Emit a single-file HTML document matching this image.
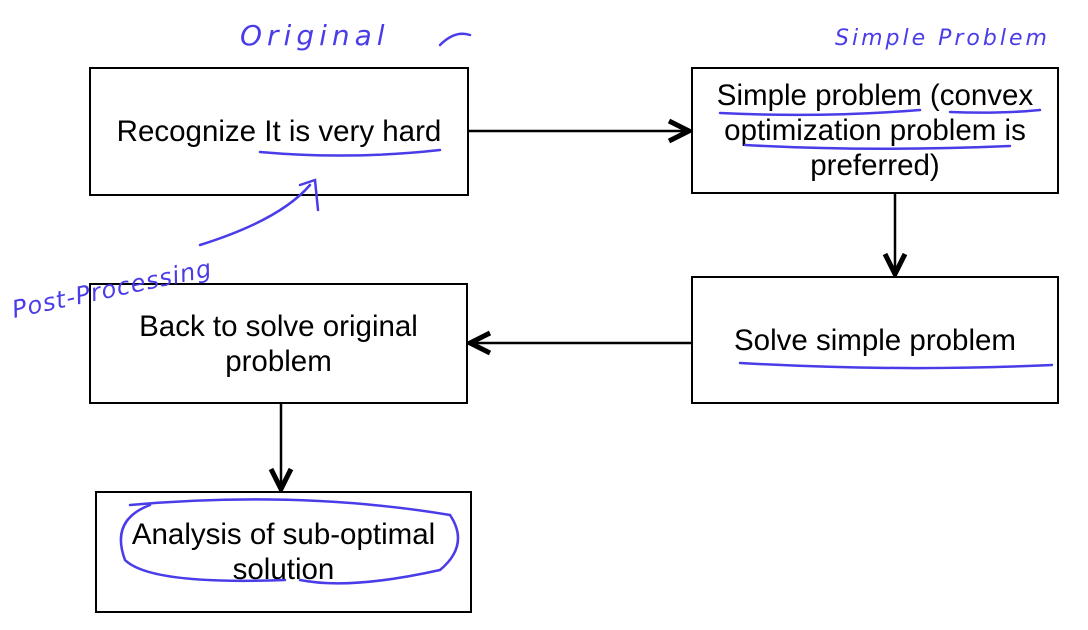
<!DOCTYPE html>
<html><head><meta charset="utf-8"><style>
html,body{margin:0;padding:0;background:#fff;}
body{width:1088px;height:630px;position:relative;overflow:hidden;font-family:"Liberation Sans",Arial,sans-serif;}
.b{position:absolute;border:2.5px solid #000;box-sizing:border-box;display:flex;align-items:center;justify-content:center;text-align:center;font-size:29.5px;line-height:35px;color:#000;}
svg{position:absolute;left:0;top:0;}
</style></head><body>
<div class="b" style="left:89px;top:67px;width:380px;height:129px;">Recognize It is very hard</div>
<div class="b" style="left:691px;top:67px;width:368px;height:127px;">Simple problem (convex<br>optimization problem is<br>preferred)</div>
<div class="b" style="left:89px;top:283px;width:379px;height:121px;">Back to solve original<br>problem</div>
<div class="b" style="left:691px;top:276px;width:368px;height:128px;">Solve simple problem</div>
<div class="b" style="left:95px;top:491px;width:377px;height:122px;">Analysis of sub-optimal<br>solution</div>
<svg width="1088" height="630" viewBox="0 0 1088 630">
<defs><marker id="a" markerWidth="10" markerHeight="10" refX="9" refY="5" orient="auto"><path d="M1,1 L9,5 L1,9" fill="none" stroke="#000" stroke-width="2"/></marker></defs>
<g stroke="#000" stroke-width="2.5" fill="none">
<line x1="469" y1="131" x2="689" y2="131" marker-end="url(#a)"/>
<line x1="895" y1="194" x2="895" y2="274" marker-end="url(#a)"/>
<line x1="691" y1="343" x2="470" y2="343" marker-end="url(#a)"/>
<line x1="281" y1="404" x2="281" y2="489" marker-end="url(#a)"/>
</g>
<g stroke="#4a3ce8" stroke-width="2.5" fill="none" stroke-linecap="round">
<path d="M260,152 Q350,160 440,150"/>
<path d="M720,113 Q820,118 920,110 M950,112 Q1000,114 1040,110"/>
<path d="M745,145 Q870,152 1010,146"/>
<path d="M740,363 Q900,372 1052,365"/>
<path d="M200,245 Q280,220 310,185 M300,185 L315,180 L318,210"/>
<path d="M130,505 Q300,490 450,515 Q470,545 440,570 Q350,590 300,580 M285,580 Q150,585 125,560 Q110,520 150,505"/>
<path d="M440,45 Q455,30 470,35"/>
</g>
<g fill="#4a3ce8" font-family="DejaVu Sans,sans-serif" font-style="italic" font-weight="300">
<text x="240" y="45" font-size="28" letter-spacing="5">Original</text>
<text x="835" y="45" font-size="22" letter-spacing="3">Simple Problem</text>
<text x="14" y="318" font-size="24" transform="rotate(-12 14 318)" letter-spacing="1">Post-Processing</text>
</g>
</svg>
</body></html>
